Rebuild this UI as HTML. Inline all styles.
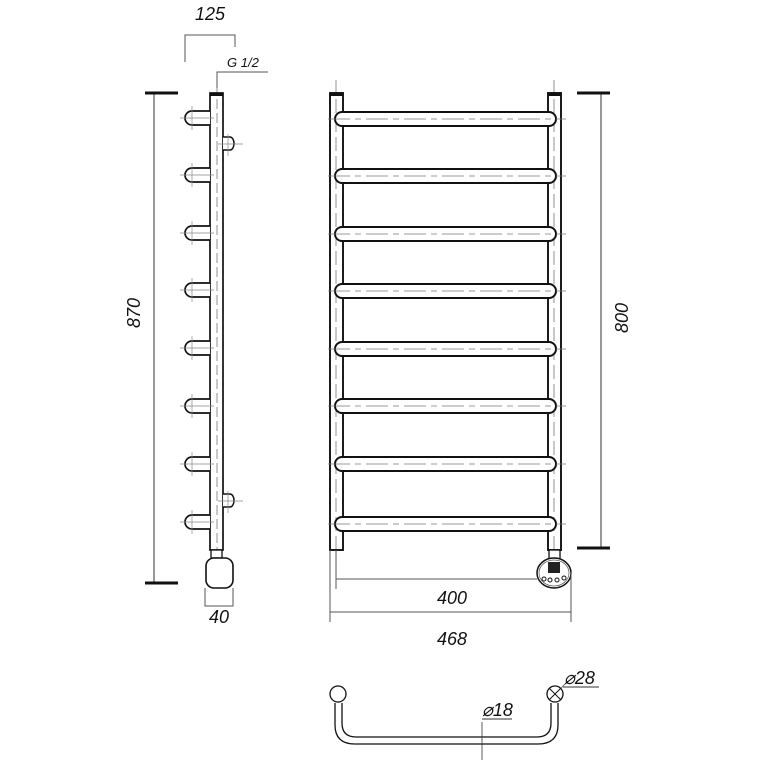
<!DOCTYPE html>
<html><head><meta charset="utf-8"><style>
html,body{margin:0;padding:0;background:#fff}
svg{display:block}
text{font-family:"Liberation Sans",sans-serif;font-style:italic;fill:#111}
</style></head><body>
<svg width="762" height="762" viewBox="0 0 762 762" xmlns="http://www.w3.org/2000/svg">
<defs>
  <g id="stub">
    <path d="M210,-7 H192 A7,7 0 0 0 192,7 H210" fill="#fff" stroke="#111" stroke-width="1.7"/>
    <line x1="180" y1="0" x2="214" y2="0" stroke="#888" stroke-width="0.7"/>
    <line x1="192" y1="-12" x2="192" y2="12" stroke="#888" stroke-width="0.7"/>
  </g>
  <g id="rung">
    <rect x="335" y="-7" width="221" height="14" rx="7" fill="#fff" stroke="#111" stroke-width="2"/>
    <line x1="328" y1="0" x2="566" y2="0" stroke="#777" stroke-width="0.8" stroke-dasharray="22,5,6,5"/>
  </g>
</defs>

<!-- SIDE VIEW -->
<line x1="217" y1="85" x2="217" y2="550" stroke="#777" stroke-width="0.8" stroke-dasharray="10,4"/>
<rect x="210" y="93" width="13" height="457" fill="none" stroke="#111" stroke-width="1.7"/>
<rect x="210" y="93" width="13" height="3" fill="#111"/>
<use href="#stub" y="118"/><use href="#stub" y="175"/><use href="#stub" y="233"/><use href="#stub" y="290"/>
<use href="#stub" y="348"/><use href="#stub" y="406"/><use href="#stub" y="464"/><use href="#stub" y="522"/>
<!-- nubs -->
<path d="M223,137 H230 A4,6.5 0 0 1 230,150 H223" fill="#fff" stroke="#111" stroke-width="1.5"/>
<line x1="218" y1="144" x2="243" y2="144" stroke="#888" stroke-width="0.7"/>
<line x1="228" y1="134" x2="228" y2="156" stroke="#888" stroke-width="0.7"/>
<path d="M223,494 H230 A4,6.5 0 0 1 230,507 H223" fill="#fff" stroke="#111" stroke-width="1.5"/>
<line x1="218" y1="501" x2="243" y2="501" stroke="#888" stroke-width="0.7"/>
<line x1="228" y1="491" x2="228" y2="513" stroke="#888" stroke-width="0.7"/>
<!-- heater side -->
<rect x="211" y="550" width="11" height="8" fill="#fff" stroke="#111" stroke-width="1.3"/>
<rect x="206" y="558" width="27" height="30" rx="8" fill="#fff" stroke="#111" stroke-width="1.6"/>
<!-- 40 dim -->
<path d="M205,588 V606 H233 V588" fill="none" stroke="#555" stroke-width="1"/>
<text x="219" y="623" font-size="18" text-anchor="middle">40</text>
<!-- 125 dim -->
<path d="M185,62 V35 H235 V47" fill="none" stroke="#555" stroke-width="1"/>
<text x="210" y="20" font-size="18" text-anchor="middle">125</text>
<!-- G 1/2 -->
<path d="M217,88 V72 H268" fill="none" stroke="#555" stroke-width="1"/>
<text x="227" y="67" font-size="13">G 1/2</text>
<!-- 870 -->
<line x1="154" y1="93" x2="154" y2="583" stroke="#555" stroke-width="1.2"/>
<line x1="145" y1="93" x2="178" y2="93" stroke="#111" stroke-width="3"/>
<line x1="145" y1="583" x2="178" y2="583" stroke="#111" stroke-width="3"/>
<text x="0" y="0" font-size="18" text-anchor="middle" transform="translate(140,313) rotate(-90)">870</text>

<!-- FRONT VIEW -->
<line x1="336" y1="80" x2="336" y2="590" stroke="#777" stroke-width="0.8" stroke-dasharray="14,5"/>
<line x1="554" y1="80" x2="554" y2="550" stroke="#777" stroke-width="0.8" stroke-dasharray="14,5"/>
<rect x="330" y="93" width="13" height="457" fill="none" stroke="#111" stroke-width="1.9"/>
<rect x="330" y="93" width="13" height="3" fill="#111"/>
<rect x="548" y="93" width="13" height="457" fill="none" stroke="#111" stroke-width="1.9"/>
<rect x="548" y="93" width="13" height="3" fill="#111"/>
<use href="#rung" y="119"/><use href="#rung" y="176"/><use href="#rung" y="234"/><use href="#rung" y="291"/>
<use href="#rung" y="349"/><use href="#rung" y="406"/><use href="#rung" y="464"/><use href="#rung" y="524"/>
<!-- heater front -->
<rect x="549" y="550" width="11" height="9" fill="#fff" stroke="#111" stroke-width="1.3"/>
<ellipse cx="554" cy="573" rx="17" ry="15" fill="#fff" stroke="#111" stroke-width="1.5"/>
<ellipse cx="554" cy="573" rx="15" ry="13" fill="none" stroke="#555" stroke-width="0.7"/>
<rect x="548" y="562" width="12" height="11" fill="#222"/>
<circle cx="544" cy="579" r="2" fill="none" stroke="#111"/>
<circle cx="550" cy="580" r="2" fill="none" stroke="#111"/>
<circle cx="557" cy="580" r="2" fill="none" stroke="#111"/>
<circle cx="564" cy="578" r="2" fill="none" stroke="#111"/>
<!-- 400 / 468 -->
<line x1="336" y1="550" x2="336" y2="589" stroke="#555" stroke-width="1"/>
<line x1="336" y1="579" x2="537" y2="579" stroke="#555" stroke-width="1"/>
<line x1="330" y1="550" x2="330" y2="622" stroke="#555" stroke-width="1"/>
<line x1="571" y1="572" x2="571" y2="622" stroke="#555" stroke-width="1"/>
<line x1="330" y1="612" x2="571" y2="612" stroke="#555" stroke-width="1"/>
<text x="452" y="604" font-size="18" text-anchor="middle">400</text>
<text x="452" y="645" font-size="18" text-anchor="middle">468</text>
<!-- 800 -->
<line x1="601" y1="93" x2="601" y2="548" stroke="#555" stroke-width="1.2"/>
<line x1="577" y1="93" x2="610" y2="93" stroke="#111" stroke-width="3"/>
<line x1="577" y1="548" x2="610" y2="548" stroke="#111" stroke-width="3"/>
<text x="0" y="0" font-size="18" text-anchor="middle" transform="translate(628,318) rotate(-90)">800</text>

<!-- BOTTOM VIEW -->
<path d="M335,703 V725 Q335,744 355,744 H538 Q558,744 558,725 V703" fill="none" stroke="#111" stroke-width="1.3"/>
<path d="M342,703 V723 Q342,737 356,737 H537 Q551,737 551,723 V703" fill="none" stroke="#111" stroke-width="1.3"/>
<circle cx="338" cy="694" r="8" fill="#fff" stroke="#111" stroke-width="1.3"/>
<circle cx="555" cy="694" r="8" fill="#fff" stroke="#111" stroke-width="1.3"/>
<line x1="549" y1="688" x2="561" y2="700" stroke="#111" stroke-width="1"/>
<line x1="561" y1="688" x2="549" y2="700" stroke="#111" stroke-width="1"/>
<line x1="561" y1="688" x2="568" y2="681" stroke="#555" stroke-width="0.8"/>
<line x1="563" y1="687" x2="599" y2="687" stroke="#333" stroke-width="1"/>
<text x="564" y="684" font-size="18">⌀28</text>
<line x1="482" y1="722" x2="482" y2="760" stroke="#333" stroke-width="0.8"/>
<line x1="482" y1="719" x2="512" y2="719" stroke="#333" stroke-width="1"/>
<text x="482" y="716" font-size="18">⌀18</text>
</svg>
</body></html>
